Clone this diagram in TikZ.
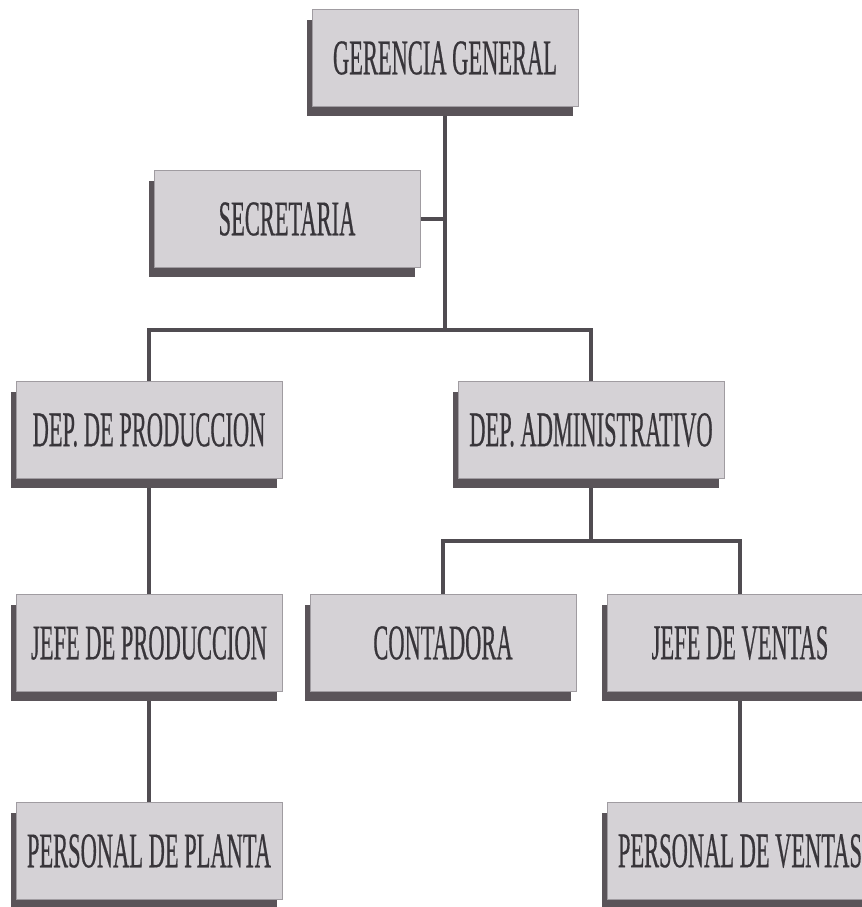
\documentclass[tikz,border=0pt]{standalone}
\usepackage{fontspec}
\usepackage{tikz}
\usetikzlibrary{shadows,backgrounds}
\newfontfamily\orgfont[FakeStretch=0.45,FakeBold=0.4]{Liberation Serif}
\definecolor{boxface}{HTML}{D5D2D6}
\definecolor{boxedge}{HTML}{A09CA1}
\definecolor{boxshade}{HTML}{5A5459}
\definecolor{linkgrey}{HTML}{504C51}
\definecolor{labelgrey}{HTML}{38353A}
\tikzset{
  orgbox/.style={draw=boxedge, fill=boxface, line width=0.5pt, minimum width=6.65cm, minimum height=2.42cm,
    inner sep=0pt, text=labelgrey, font=\orgfont\fontsize{35.5}{40}\selectfont,
    drop shadow={shadow xshift=-0.125cm, shadow yshift=-0.25cm, fill=boxshade, opacity=1}},
  orglink/.style={draw=linkgrey, line width=2.8pt}
}

\begin{document}
\begin{tikzpicture}[x=0.025cm, y=-0.025cm]
          \useasboundingbox (0,0) rectangle (861,907);

          \node[orgbox] (Gerencia) at (445,58) {GERENCIA GENERAL};
          \node[orgbox] (Secretaria) at (287,219) {SECRETARIA};
          \node[orgbox] (Produccion) at (149,430) {DEP. DE PRODUCCION};
          \node[orgbox] (Administrativo) at (591,430) {DEP. ADMINISTRATIVO};
          \node[orgbox] (JefeProduccion) at (149,643) {JEFE DE PRODUCCION};
          \node[orgbox] (Contadora) at (443,643) {CONTADORA};
          \node[orgbox] (JefeVentas) at (740,643) {JEFE DE VENTAS};
          \node[orgbox] (Planta) at (149,851) {PERSONAL DE PLANTA};
          \node[orgbox] (PersonalVentas) at (740,851) {PERSONAL DE VENTAS};

          \coordinate (BusTop) at (445,330);
          \coordinate (BusAdmin) at (591,541);

          \begin{scope}[on background layer]
          \fill[white] (0,0) rectangle (861,907);
          \draw[orglink] (Gerencia.south) to (BusTop);
          \draw[orglink] (Secretaria.east) to (Secretaria.east -| BusTop);
          \draw[orglink] (Produccion.north) |- (BusTop) -| (Administrativo.north);
          \draw[orglink] (Produccion.south) to (JefeProduccion.north);
          \draw[orglink] (JefeProduccion.south) to (Planta.north);
          \draw[orglink] (Administrativo.south) to (BusAdmin);
          \draw[orglink] (Contadora.north) |- (BusAdmin) -| (JefeVentas.north);
          \draw[orglink] (JefeVentas.south) to (PersonalVentas.north);
          \end{scope}
        \end{tikzpicture}
\end{document}
